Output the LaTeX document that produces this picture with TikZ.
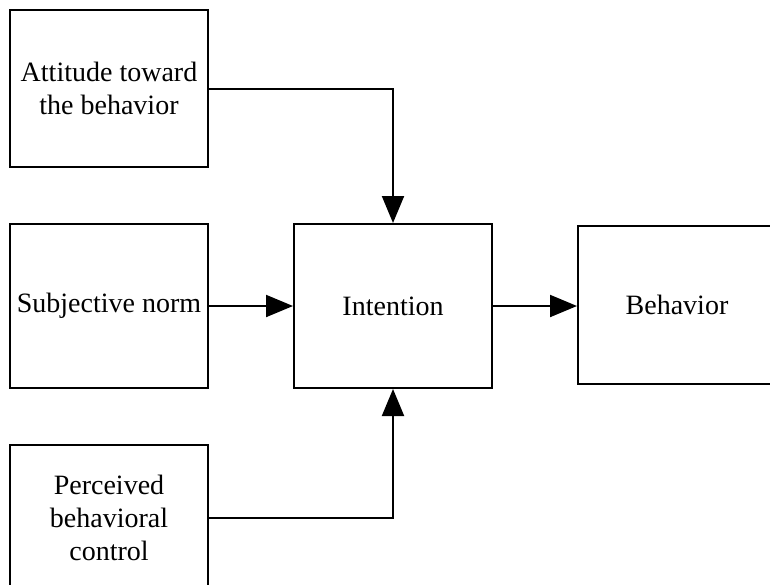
\documentclass[tikz,border=0pt]{standalone}
\usepackage{fontspec}
\setmainfont{Liberation Serif}
\usetikzlibrary{arrows.meta}
\begin{document}
\begin{tikzpicture}[x=1pt,y=-1pt,
  box/.style={draw,line width=2pt,minimum width=198pt,align=center,
    inner sep=0pt,font=\fontsize{28}{33}\selectfont},
  link/.style={line width=2pt,-{Triangle[length=27pt,width=22pt]}}]
\useasboundingbox (0,0) rectangle (770,584);
\clip (0,0) rectangle (770,584);
\node[box,minimum height=157pt] (att) at (109,88.5) {Attitude toward\\the behavior};
\node[box,minimum height=164pt] (sub) at (109,306) {Subjective norm};
\node[box,minimum height=146pt] (pbc) at (109,518) {Perceived\\behavioral\\control};
\node[box,minimum height=164pt] (int) at (393,306) {Intention};
\node[box,minimum height=158pt] (beh) at (677,305) {Behavior};
\draw[link] (att.east) -| (int.north);
\draw[link] (sub.east) -- (int.west);
\draw[link] (pbc.east) -| (int.south);
\draw[link] (int.east) -- (int.east -| beh.west);
\end{tikzpicture}
\end{document}
